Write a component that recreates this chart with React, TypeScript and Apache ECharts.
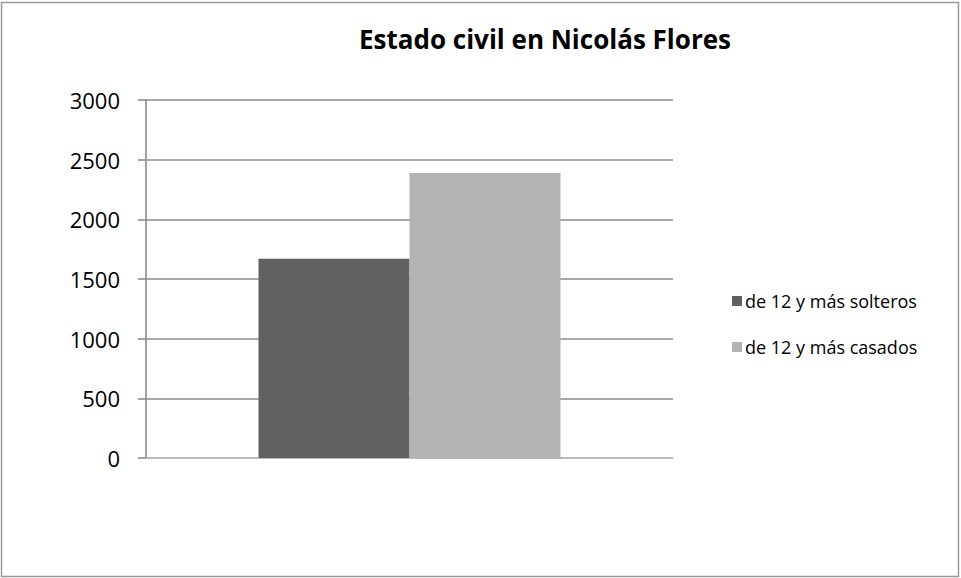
import React, { useEffect, useRef } from "react";
import * as echarts from "echarts";

const title = "Estado civil en Nicolás Flores";
const categories = ["Nicolás Flores"];
const seriesNames = ["de 12 y más solteros", "de 12 y más casados"];
const solteros = [1669];
const casados = [2389];
const yTicks = { min: 0, max: 3000, interval: 500 };

export default function App() {
  const ref = useRef<HTMLDivElement>(null);
  useEffect(() => {
    document.body.style.margin = "0";
    const chart = echarts.init(ref.current!, null, { renderer: "svg" });
    const font = "Open Sans";
    chart.setOption({
      animation: false,
      backgroundColor: "#ffffff",
      textStyle: { fontFamily: font },
      title: {
        text: title,
        left: 540,
        textAlign: "center",
        top: 21,
        textStyle: { fontFamily: font, fontSize: 26, fontWeight: "bold", color: "#000" },
      },
      graphic: [
        {
          type: "rect",
          shape: { x: 1.5, y: 2.5, width: 957, height: 574 },
          style: { fill: "none", stroke: "#9a9a9a", lineWidth: 1.5 },
          silent: true,
        },
      ],
      legend: {
        orient: "vertical",
        left: 727,
        top: 287,
        itemWidth: 10,
        itemHeight: 10,
        itemGap: 28,
        icon: "rect",
        textStyle: { fontFamily: font, fontSize: 18, color: "#000", padding: [0, 0, 0, -2] },
        data: seriesNames,
      },
      grid: { left: 146, right: 288, top: 100, bottom: 120, containLabel: false },
      xAxis: {
        type: "category",
        data: categories,
        axisLine: { show: true, lineStyle: { color: "#bfbfbf", width: 1.5 } },
        axisTick: { show: false },
        axisLabel: { show: false },
      },
      yAxis: {
        type: "value",
        min: yTicks.min,
        max: yTicks.max,
        interval: yTicks.interval,
        axisLine: { show: true, lineStyle: { color: "#868686", width: 1.5 } },
        axisTick: { show: true, length: 8, lineStyle: { color: "#868686", width: 1.5 } },
        axisLabel: {
          fontFamily: font,
          fontSize: 22,
          color: "#000",
          margin: 26,
          formatter: (v: number) => String(v),
        },
        splitLine: { show: true, lineStyle: { color: "#8c8c8c", width: 1.5 } },
      },
      series: [
        {
          name: seriesNames[0],
          type: "bar",
          data: solteros,
          barWidth: 151,
          barGap: "0%",
          itemStyle: { color: "#606060" },
        },
        {
          name: seriesNames[1],
          type: "bar",
          data: casados,
          barWidth: 151,
          barGap: "0%",
          itemStyle: { color: "#b3b3b3" },
        },
      ],
    });
    return () => chart.dispose();
  }, []);
  return <div ref={ref} style={{ width: 961, height: 578 }} />;
}
